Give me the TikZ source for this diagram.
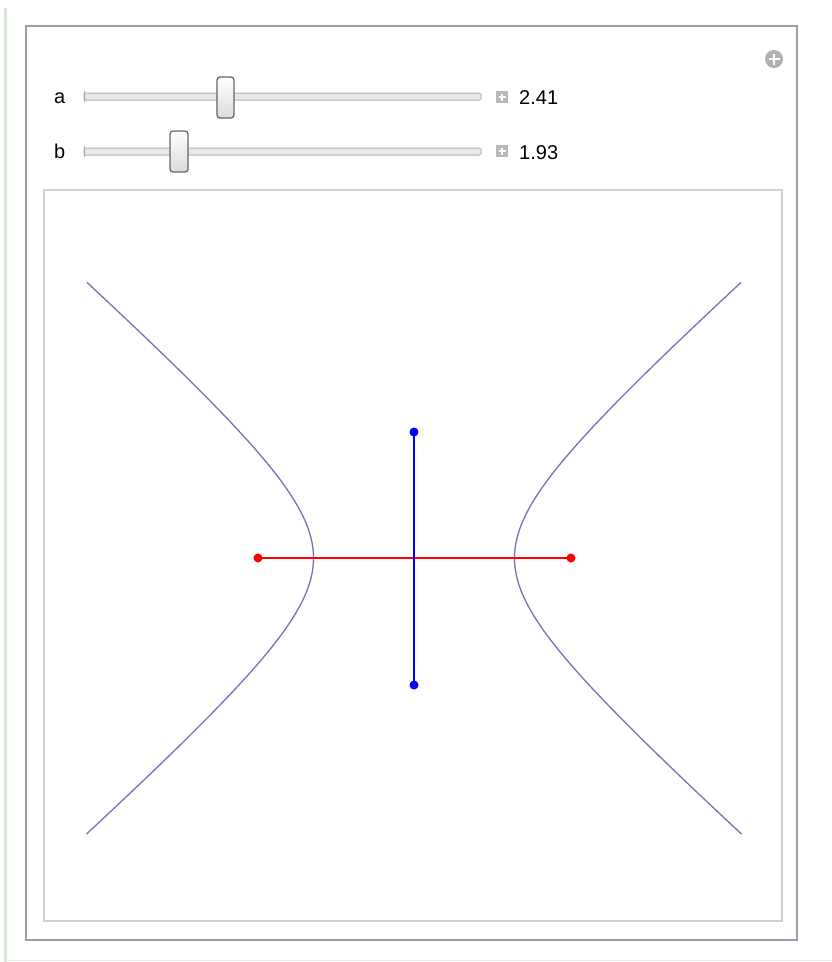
\documentclass[tikz,border=0pt]{standalone}
\usepackage{fontspec}
\setmainfont{Liberation Sans}
\definecolor{greenbar}{RGB}{214,232,214}
\definecolor{panelborder}{RGB}{155,158,168}
\definecolor{hypcol}{RGB}{115,115,185}
\begin{document}
\begin{tikzpicture}[x=1pt,y=-1pt,
  lbl/.style={font=\fontsize{20}{24}\selectfont, inner sep=0pt, anchor=base west},
  track/.style={draw=black!30, fill=black!9, line width=1pt, rounded corners=1.5pt},
  thumb/.style={draw=black!60, line width=1.3pt, rounded corners=3pt, top color=white, bottom color=black!14},
  pbox/.style={fill=black!28},
  dotr/.style={fill=red, draw=none},
  dotb/.style={fill=blue, draw=none},
  curve/.style={draw=hypcol, line width=1.3pt},
]
\useasboundingbox (0,0) rectangle (832,962);
\fill[white] (0,0) rectangle (832,962);
% left green bar and bottom line
\fill[greenbar] (3.5,8) rectangle (7,962);
\draw[black!8, line width=1pt] (7,960) -- (832,960);
% outer panel
\draw[panelborder, line width=2pt] (26,26) rectangle (797,940);
% plus icon
\fill[black!30] (774,59) circle (9);
\draw[white, line width=2.4pt] (768.5,59) -- (779.5,59) (774,53.5) -- (774,64.5);
% slider a
\node[lbl] (la) at (54,103) {a};
\draw[track] (84,93) rectangle (481,100);
\draw[black!35, line width=1pt] (84.5,91) -- (84.5,102);
\draw[thumb] (217,77) rectangle (234,118);
\fill[pbox] (496,91) rectangle (508,103);
\draw[white, line width=1.6pt] (498.5,97) -- (505.5,97) (502,93.5) -- (502,100.5);
\node[lbl] (va) at (519,104) {2.41};
% slider b
\node[lbl] (lb) at (54,158) {b};
\draw[track] (84,148) rectangle (481,155);
\draw[black!35, line width=1pt] (84.5,146) -- (84.5,157);
\draw[thumb] (170,131) rectangle (188,172);
\fill[pbox] (496,145) rectangle (508,157);
\draw[white, line width=1.6pt] (498.5,151) -- (505.5,151) (502,147.5) -- (502,154.5);
\node[lbl] (vb) at (519,159) {1.93};
% plot frame
\draw[black!18, line width=1.5pt] (44,190) rectangle (782,921);
% hyperbola
\draw[curve] plot[domain=-1.85:1.85, samples=120, smooth] ({414-100.5*cosh(\x)}, {558-89*sinh(\x)});
\draw[curve] plot[domain=-1.85:1.85, samples=120, smooth] ({414+100.5*cosh(\x)}, {558-89*sinh(\x)});
% axes
\coordinate (fl) at (258,558);
\coordinate (fr) at (571,558);
\coordinate (bt) at (414,432);
\coordinate (bb) at (414,685);
\draw[red, line width=1.5pt] (fl) -- (fr);
\draw[blue, line width=1.5pt] (bt) -- (bb);
\fill[dotr] (fl) circle (4.5);
\fill[dotr] (fr) circle (4.5);
\fill[dotb] (bt) circle (4.5);
\fill[dotb] (bb) circle (4.5);
\end{tikzpicture}
\end{document}
